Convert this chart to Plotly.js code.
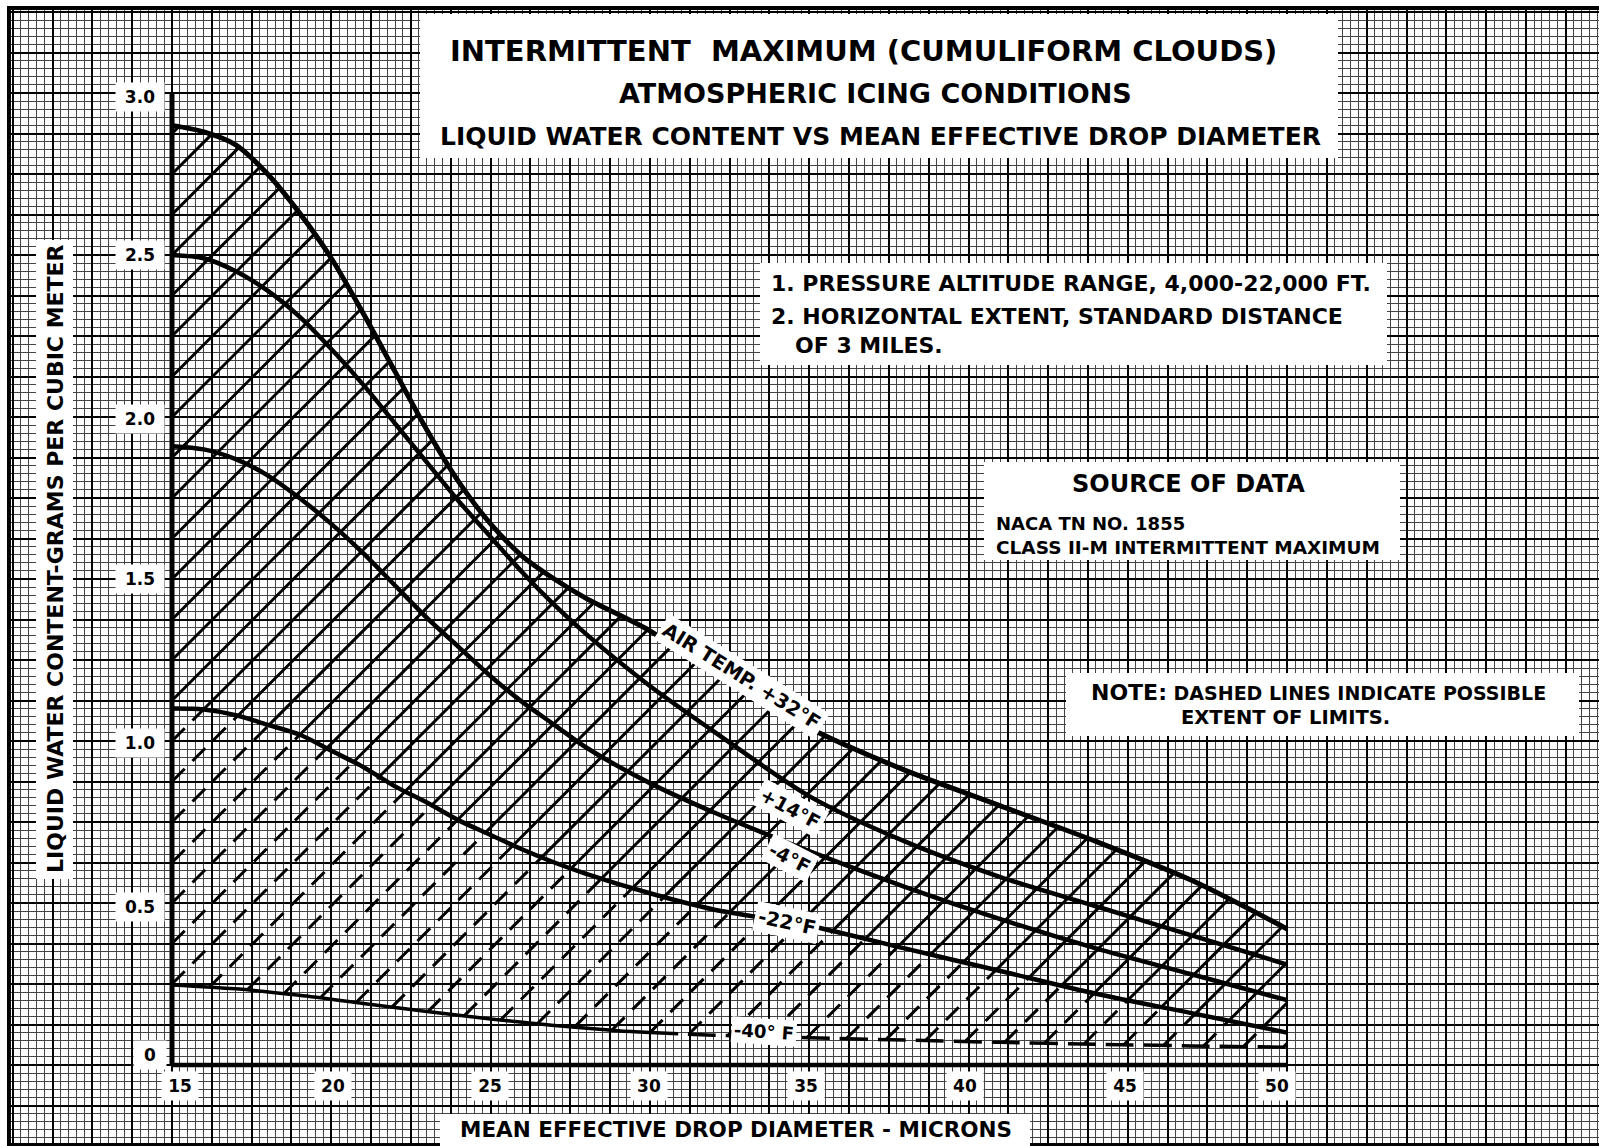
<!DOCTYPE html>
<html><head><meta charset="utf-8">
<script src="https://cdn.plot.ly/plotly-3.0.1.min.js"></script>
<style>html,body{margin:0;padding:0;background:#fff;}#chart{width:1599px;height:1146px;}</style>
</head><body><div id="chart"></div>
<script>
(function () {
// ---------------- DATA ----------------
const xTickVals = [15, 20, 25, 30, 35, 40, 45, 50];
const xTickText = ['15', '20', '25', '30', '35', '40', '45', '50'];
const yTickVals = [0, 0.5, 1.0, 1.5, 2.0, 2.5, 3.0];
const yTickText = ['0', '0.5', '1.0', '1.5', '2.0', '2.5', '3.0'];

// Air temperature curves: liquid water content (g/m^3) vs mean effective drop diameter (microns)
const t32_x = [15, 16, 17, 18, 19, 20, 21, 22, 23, 24, 25, 26, 27, 28, 30, 32, 35, 38, 41, 44, 47, 50];
const t32_y = [2.90, 2.88, 2.84, 2.75, 2.63, 2.49, 2.32, 2.14, 1.96, 1.80, 1.67, 1.57, 1.50, 1.44, 1.34, 1.21, 1.04, 0.91, 0.80, 0.69, 0.57, 0.42];
const t14_x = [15, 16, 17, 18, 19, 20, 21, 22, 23, 24, 25, 26, 27, 28, 30, 32, 35, 38, 41, 44, 47, 50];
const t14_y = [2.50, 2.49, 2.45, 2.39, 2.31, 2.21, 2.10, 1.98, 1.86, 1.74, 1.63, 1.52, 1.42, 1.33, 1.17, 1.03, 0.83, 0.69, 0.58, 0.49, 0.40, 0.31];
const tm4_x = [15, 16, 17, 18, 19, 20, 21, 22, 23, 24, 25, 26, 27, 28, 30, 32, 35, 38, 41, 44, 47, 50];
const tm4_y = [1.91, 1.90, 1.87, 1.82, 1.75, 1.67, 1.58, 1.48, 1.38, 1.29, 1.20, 1.12, 1.05, 0.98, 0.87, 0.78, 0.66, 0.55, 0.45, 0.36, 0.28, 0.20];
const tm22_x = [15, 16, 17, 18, 19, 20, 21, 22, 23, 24, 25, 26, 27, 28, 30, 32, 35, 38, 41, 44, 47, 50];
const tm22_y = [1.10, 1.097, 1.08, 1.05, 1.02, 0.97, 0.92, 0.86, 0.81, 0.755, 0.71, 0.665, 0.625, 0.59, 0.53, 0.48, 0.43, 0.36, 0.29, 0.22, 0.16, 0.10];
const tm40_x = [15, 17, 19, 21, 23, 25, 27, 29, 30, 32, 35, 38, 41, 44, 47, 50];
const tm40_y = [0.247, 0.235, 0.215, 0.19, 0.165, 0.142, 0.122, 0.106, 0.100, 0.092, 0.084, 0.077, 0.070, 0.064, 0.059, 0.055];

// ---------------- STYLE / LAYOUT CONSTANTS ----------------
const W = 1599, H = 1146, ML = 11, MR = 0, MT = 10, MB = 3;
const PW = W - ML - MR, PH = H - MT - MB;
// axis calibration: x=15 at px 172, 31.86 px per micron; y=0 at py 1065, 324 px per unit
const XPX = 31.86, YPX = 324;
const X_RANGE = [15 - (172 - ML) / XPX, 15 + (W - MR - 172) / XPX];
const Y_RANGE = [-(H - MB - 1065) / YPX, (1065 - MT) / YPX];
const HATCH_STEP = 0.125;          // vertical spacing of hatch lines at x = 15
const HATCH_SLOPE = XPX / YPX;     // 45 degree lines on the page
const DASH_FROM = 30;              // -40F curve is dashed beyond this diameter
const FONT = 'DejaVu Sans, Liberation Sans, sans-serif';

function px(x) { return (x - ML) / PW; }
function py(y) { return (H - MB - y) / PH; }

// ---------------- HATCHING (derived from the curves) ----------------
function interp(xs, ys, x) {
  if (x <= xs[0]) return ys[0];
  for (let i = 0; i < xs.length - 1; i++) {
    if (x <= xs[i + 1]) { const t = (x - xs[i]) / (xs[i + 1] - xs[i]); return ys[i] + t * (ys[i + 1] - ys[i]); }
  }
  return ys[ys.length - 1];
}
function root(f, a, b) {
  const step = 0.005; let prev = a, fp = f(a);
  for (let x = a + step; x <= b + 1e-9; x += step) {
    const fx = f(x);
    if ((fp <= 0 && fx > 0) || (fp >= 0 && fx < 0)) return prev + (x - prev) * (fp / (fp - fx));
    prev = x; fp = fx;
  }
  return null;
}
const topC = x => interp(t32_x, t32_y, x);
const midC = x => interp(tm22_x, tm22_y, x);
const botC = x => interp(tm40_x, tm40_y, x);
const solidX = [], solidY = [], dashX = [], dashY = [];
for (let k = -45; k <= 24; k++) {
  const line = x => HATCH_STEP * k + HATCH_SLOPE * (x - 15);
  const gTop = x => topC(x) - line(x);
  if (gTop(15) <= 0) continue;
  const xTop = gTop(50) > 0 ? 50 : root(gTop, 15, 50);
  const gBot = x => line(x) - botC(x);
  let xBot;
  if (gBot(15) >= 0) xBot = 15; else { if (gBot(50) < 0) continue; xBot = root(gBot, 15, 50); }
  const gMid = x => line(x) - midC(x);
  let xMid;
  if (gMid(15) >= 0) xMid = 15; else xMid = gMid(50) < 0 ? 50 : root(gMid, 15, 50);
  const s0 = Math.max(xBot, xMid);
  if (xTop > s0) { solidX.push(s0, xTop, null); solidY.push(line(s0), line(xTop), null); }
  const d1 = Math.min(xMid, xTop);
  if (d1 > xBot) { dashX.push(xBot, d1, null); dashY.push(line(xBot), line(d1), null); }
}

// ---------------- TRACES ----------------
const curveStyle = w => ({ color: '#000', width: w, shape: 'spline', smoothing: 0.8 });
const solid40x = [], solid40y = [], dash40x = [], dash40y = [];
tm40_x.forEach((x, i) => {
  if (x <= DASH_FROM) { solid40x.push(x); solid40y.push(tm40_y[i]); }
  if (x >= DASH_FROM) { dash40x.push(x); dash40y.push(tm40_y[i]); }
});
const traces = [
  { x: dashX, y: dashY, mode: 'lines', line: { color: '#000', width: 3, dash: '18px,11px' }, hoverinfo: 'skip' },
  { x: solidX, y: solidY, mode: 'lines', line: { color: '#000', width: 3 }, hoverinfo: 'skip' },
  { x: t32_x, y: t32_y, mode: 'lines', line: curveStyle(5), name: '+32°F' },
  { x: t14_x, y: t14_y, mode: 'lines', line: curveStyle(4.5), name: '+14°F' },
  { x: tm4_x, y: tm4_y, mode: 'lines', line: curveStyle(4.5), name: '-4°F' },
  { x: tm22_x, y: tm22_y, mode: 'lines', line: curveStyle(4.5), name: '-22°F' },
  { x: solid40x, y: solid40y, mode: 'lines', line: curveStyle(3.5), name: '-40°F' },
  { x: dash40x, y: dash40y, mode: 'lines', line: Object.assign(curveStyle(3.5), { dash: '28px,10px' }), name: '-40°F (possible)' },
  { x: [xTickVals[0], xTickVals[0]], y: [0, yTickVals[yTickVals.length - 1]], mode: 'lines', line: { color: '#000', width: 5 }, hoverinfo: 'skip' },
  { x: [xTickVals[0], xTickVals[xTickVals.length - 1]], y: [0, 0], mode: 'lines', line: { color: '#000', width: 4.5 }, hoverinfo: 'skip' }
];

// ---------------- ANNOTATIONS & BOXES ----------------
function ann(text, x, y, size, o) {
  return Object.assign({ text, xref: 'paper', yref: 'paper', x: px(x), y: py(y), showarrow: false,
    xanchor: 'center', yanchor: 'middle', font: { family: FONT, size, color: '#000', weight: 'bold' } }, o || {});
}
function box(x0, y0, x1, y1) {
  return { type: 'rect', xref: 'paper', yref: 'paper', x0: px(x0), x1: px(x1), y0: py(y1), y1: py(y0),
    fillcolor: '#fff', line: { width: 0 }, layer: 'above' };
}
const shapes = [
  box(420, 14, 1338, 158),
  box(760, 263, 1387, 365),
  box(984, 462, 1400, 560),
  box(1066, 673, 1579, 736),
  box(36, 240, 73, 879),
  box(440, 1114, 1030, 1146)
];
const annotations = [
  ann('INTERMITTENT  MAXIMUM (CUMULIFORM CLOUDS)', 863, 51, 29),
  ann('ATMOSPHERIC ICING CONDITIONS', 875, 93, 27),
  ann('LIQUID WATER CONTENT VS MEAN EFFECTIVE DROP DIAMETER', 880, 136, 25),
  ann('1. PRESSURE ALTITUDE RANGE, 4,000-22,000 FT.', 769, 283, 22, { xanchor: 'left' }),
  ann('2. HORIZONTAL EXTENT, STANDARD DISTANCE', 769, 316, 22, { xanchor: 'left' }),
  ann('OF 3 MILES.', 793, 345, 22, { xanchor: 'left' }),
  ann('SOURCE OF DATA', 1188, 484, 24),
  ann('NACA TN NO. 1855', 994, 523, 18, { xanchor: 'left' }),
  ann('CLASS II-M INTERMITTENT MAXIMUM', 994, 547, 18.5, { xanchor: 'left' }),
  ann('<span style="font-size:22px">NOTE:</span> DASHED LINES INDICATE POSSIBLE', 1089, 692, 19, { xanchor: 'left' }),
  ann('EXTENT OF LIMITS.', 1285, 717, 19.5),
  ann('LIQUID WATER CONTENT-GRAMS PER CUBIC METER', 55, 559, 22, { textangle: -90 }),
  ann('MEAN EFFECTIVE DROP DIAMETER - MICRONS', 736, 1129, 21.5),
  ann('AIR TEMP. +32°F', 742, 676, 19.5, { textangle: 32, bgcolor: '#fff', borderpad: 3 }),
  ann('+14°F', 790, 808, 19, { textangle: 28, bgcolor: '#fff', borderpad: 3 }),
  ann('-4°F', 790, 858, 19, { textangle: 27, bgcolor: '#fff', borderpad: 3 }),
  ann('-22°F', 787, 922, 19.5, { textangle: 12, bgcolor: '#fff', borderpad: 3 }),
  ann('-40° F', 764, 1031, 18, { textangle: 4, bgcolor: '#fff', borderpad: 2 })
];
const xTickShift = [8, 2, -1, -1, -3, -4, -3, -10];
xTickVals.forEach((v, i) => annotations.push({ text: xTickText[i], xref: 'x', yref: 'paper', x: v, y: py(1086),
  xanchor: 'center', yanchor: 'middle', xshift: xTickShift[i], showarrow: false, bgcolor: '#fff', width: 34, height: 26,
  font: { family: FONT, size: 17, color: '#000', weight: 'bold' } }));
const yTickShift = [10, -4, -2, 0, -2, 0, -4];
yTickVals.forEach((v, i) => annotations.push({ text: yTickText[i], xref: 'paper', yref: 'y', x: px(i === 0 ? 150 : 140), y: v,
  xanchor: 'center', yanchor: 'middle', yshift: yTickShift[i], showarrow: false, bgcolor: '#fff', width: i === 0 ? 30 : 46, height: 26,
  font: { family: FONT, size: 17, color: '#000', weight: 'bold' } }));

const layout = {
  width: W, height: H, margin: { l: ML, r: MR, t: MT, b: MB, pad: 0 },
  paper_bgcolor: '#fff', plot_bgcolor: '#fff', showlegend: false,
  xaxis: { range: X_RANGE, tick0: 15, dtick: 1.25, showgrid: true, gridcolor: '#000', gridwidth: 2,
    minor: { tick0: 15, dtick: 0.25, showgrid: true, gridcolor: '#444', gridwidth: 1 },
    showticklabels: false, ticks: '', zeroline: false, showline: true, mirror: true, linecolor: '#000', linewidth: 4 },
  yaxis: { range: Y_RANGE, tick0: 0, dtick: 0.125, showgrid: true, gridcolor: '#000', gridwidth: 2,
    minor: { tick0: 0, dtick: 0.025, showgrid: true, gridcolor: '#444', gridwidth: 1 },
    showticklabels: false, ticks: '', zeroline: false, showline: true, mirror: false, linecolor: '#000', linewidth: 4 },
  shapes, annotations
};
Plotly.newPlot('chart', traces, layout, { staticPlot: true, displayModeBar: false });
})();
</script></body></html>
